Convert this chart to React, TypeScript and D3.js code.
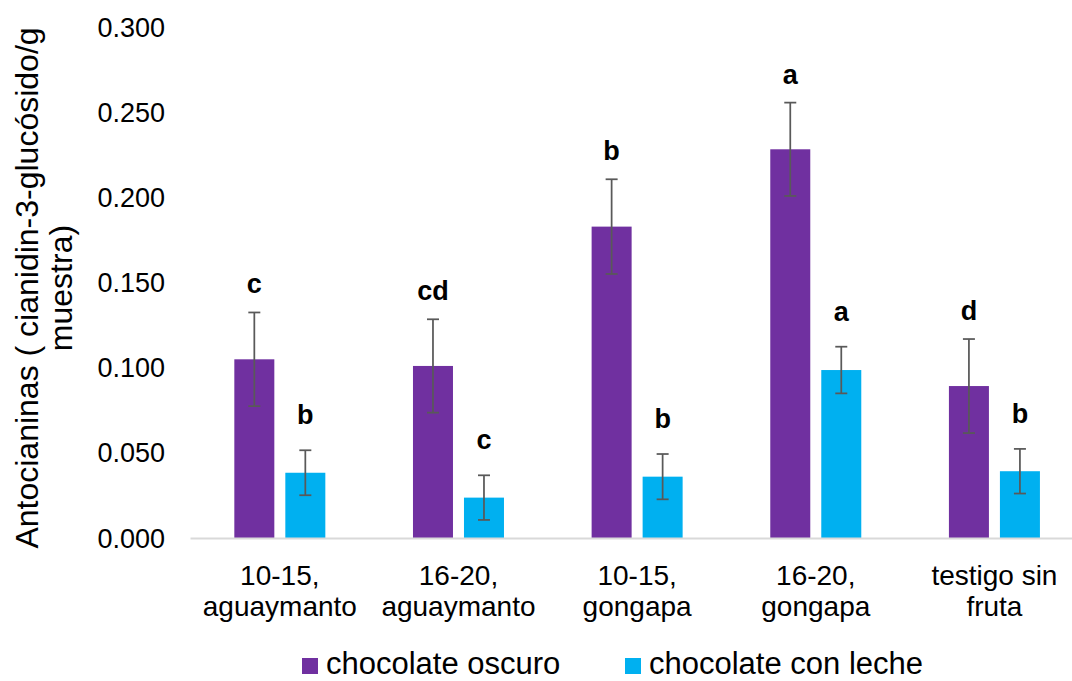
import React from "react";
import * as d3 from "d3";

// Categories (two-line labels) and series
const categories = ["10-15, aguaymanto", "16-20, aguaymanto", "10-15, gongapa", "16-20, gongapa", "testigo sin fruta"];
const categoryLines = [
  ["10-15,", "aguaymanto"],
  ["16-20,", "aguaymanto"],
  ["10-15,", "gongapa"],
  ["16-20,", "gongapa"],
  ["testigo sin", "fruta"],
];
const seriesNames = ["chocolate oscuro", "chocolate con leche"];
const seriesColors = ["#7030A0", "#00B0F0"];

// Mean values per series
const oscuroValues = [0.1052, 0.1013, 0.1831, 0.2285, 0.0895];
const lecheValues = [0.0386, 0.024, 0.0363, 0.0989, 0.0395];

// Error (± deviation) per series
const oscuroErrors = [0.0275, 0.0274, 0.0278, 0.0274, 0.0276];
const lecheErrors = [0.0132, 0.0131, 0.0133, 0.0137, 0.0131];

// Significance letters
const oscuroLetters = ["c", "cd", "b", "a", "d"];
const lecheLetters = ["b", "c", "b", "a", "b"];

const yTicks = [0, 0.05, 0.1, 0.15, 0.2, 0.25, 0.3];

const W = 1072;
const H = 681;
const FONT = "'Liberation Sans', Arial, Helvetica, sans-serif";

export default function App() {
  const y = d3.scaleLinear().domain([0, 0.3]).range([538.5, 27.5]);
  const x0 = d3
    .scaleBand<string>()
    .domain(categories)
    .range([190.5, 1083.75])
    .paddingInner(0.4906)
    .paddingOuter(0.4906 / 2);
  const x1 = d3
    .scaleBand<string>()
    .domain(seriesNames)
    .range([0, x0.bandwidth()])
    .paddingInner(0.2157);

  const series = [
    { name: seriesNames[0], color: seriesColors[0], values: oscuroValues, errors: oscuroErrors, letters: oscuroLetters, labelGap: 19 },
    { name: seriesNames[1], color: seriesColors[1], values: lecheValues, errors: lecheErrors, letters: lecheLetters, labelGap: 26 },
  ];

  const fmt = d3.format(".3f");
  const cap = 6;

  return (
    <svg
      width={W}
      height={H}
      viewBox={`0 0 ${W} ${H}`}
      style={{ position: "absolute", left: 0, top: 0, background: "#fff", fontFamily: FONT }}
    >
      <rect x={0} y={0} width={W} height={H} fill="#fff" />

      {/* y tick labels */}
      {yTicks.map((t) => (
        <text key={t} x={165} y={y(t)} textAnchor="end" dominantBaseline="central" fontSize={27} fill="#000">
          {fmt(t)}
        </text>
      ))}

      {/* y axis title */}
      <g transform={`translate(0, 288) rotate(-90)`}>
        <text x={0} y={38} textAnchor="middle" fontSize={32} fill="#000">
          Antocianinas ( cianidin-3-glucósido/g
        </text>
        <text x={0} y={72} textAnchor="middle" fontSize={32} fill="#000">
          muestra)
        </text>
      </g>

      {/* bars, error bars, letters */}
      {series.map((s) =>
        categories.map((c, i) => {
          const bx = (x0(c) ?? 0) + (x1(s.name) ?? 0);
          const bw = x1.bandwidth();
          const cx = bx + bw / 2;
          const v = s.values[i];
          const e = s.errors[i];
          const yTop = y(v + e);
          const yBot = y(v - e);
          return (
            <g key={s.name + c}>
              <rect x={bx} y={y(v)} width={bw} height={y(0) - y(v)} fill={s.color} />
              <line x1={cx} x2={cx} y1={yTop} y2={yBot} stroke="#595959" strokeWidth={1.75} />
              <line x1={cx - cap} x2={cx + cap} y1={yTop} y2={yTop} stroke="#595959" strokeWidth={1.75} />
              <line x1={cx - cap} x2={cx + cap} y1={yBot} y2={yBot} stroke="#595959" strokeWidth={1.75} />
              <text x={cx} y={yTop - s.labelGap} textAnchor="middle" fontSize={27} fontWeight="bold" fill="#000">
                {s.letters[i]}
              </text>
            </g>
          );
        })
      )}

      {/* baseline axis */}
      <line x1={190.5} x2={W} y1={y(0)} y2={y(0)} stroke="#D9D9D9" strokeWidth={2} />

      {/* category labels */}
      {categories.map((c, i) => {
        const cx = (x0(c) ?? 0) + x0.bandwidth() / 2;
        return (
          <text key={c} textAnchor="middle" fontSize={28} fill="#000">
            <tspan x={cx} y={585}>{categoryLines[i][0]}</tspan>
            <tspan x={cx} y={616}>{categoryLines[i][1]}</tspan>
          </text>
        );
      })}

      {/* legend */}
      {[302, 625].map((lx, i) => (
        <g key={seriesNames[i]}>
          <rect x={lx} y={658} width={16} height={16} fill={seriesColors[i]} />
          <text x={lx + 24} y={674} fontSize={31} fill="#000">
            {seriesNames[i]}
          </text>
        </g>
      ))}
    </svg>
  );
}
